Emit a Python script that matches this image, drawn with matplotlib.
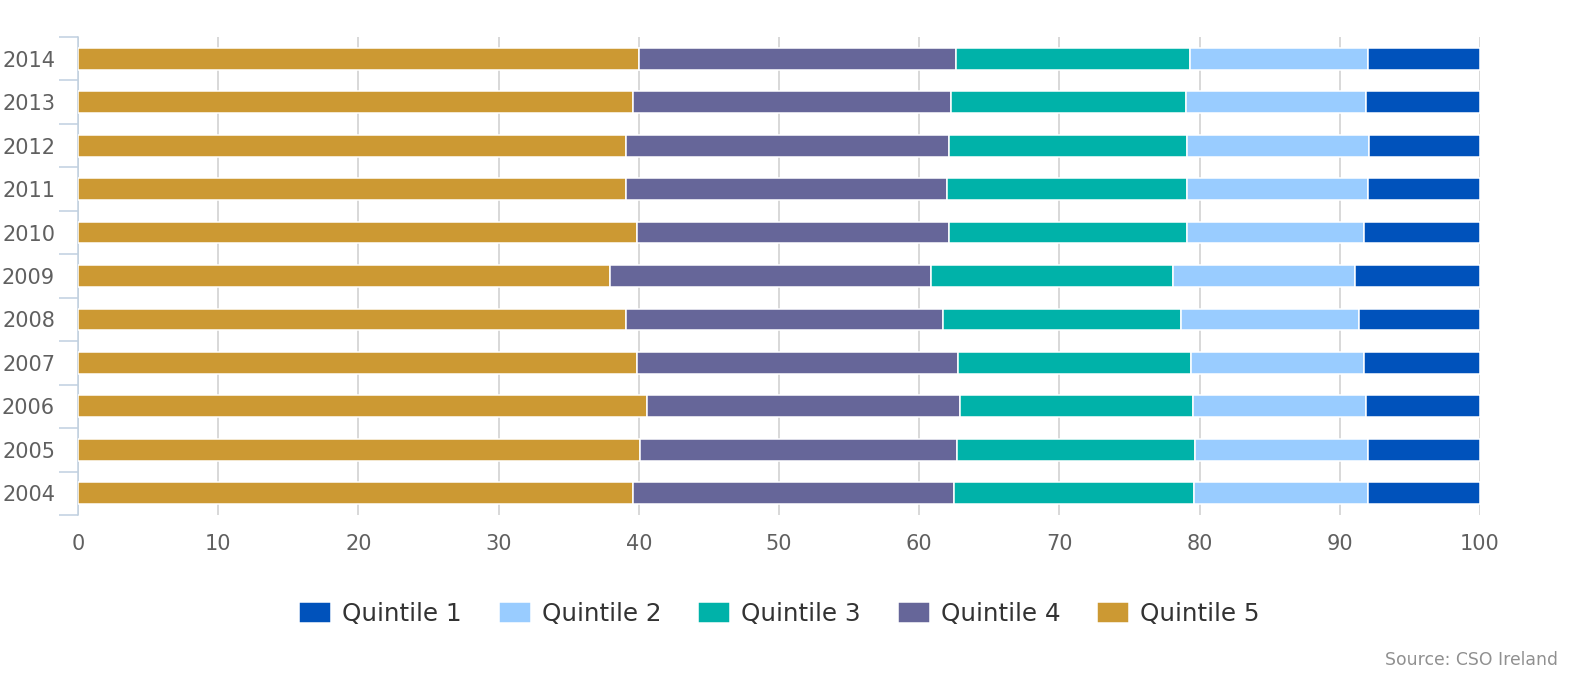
import matplotlib
matplotlib.use("Agg")
import matplotlib.pyplot as plt
import numpy as np

years = ["2004", "2005", "2006", "2007", "2008", "2009", "2010", "2011", "2012", "2013", "2014"]

# share of income by quintile (stacked to 100%)
q5 = [39.6, 40.1, 40.6, 39.9, 39.1, 38.0, 39.9, 39.1, 39.1, 39.6, 40.0]
q4 = [22.9, 22.6, 22.3, 22.9, 22.6, 22.9, 22.3, 22.9, 23.0, 22.7, 22.6]
q3 = [17.1, 17.0, 16.6, 16.7, 17.0, 17.3, 17.0, 17.1, 17.0, 16.7, 16.7]
q2 = [12.4, 12.3, 12.4, 12.3, 12.7, 13.0, 12.6, 12.9, 13.0, 12.9, 12.7]
q1 = [8.0, 8.0, 8.1, 8.3, 8.6, 8.9, 8.3, 8.0, 7.9, 8.1, 8.0]

series = [("Quintile 5", q5, "#CC9933"),
          ("Quintile 4", q4, "#666699"),
          ("Quintile 3", q3, "#00B2A9"),
          ("Quintile 2", q2, "#99CCFF"),
          ("Quintile 1", q1, "#0052BB")]

total = np.array(q5) + np.array(q4) + np.array(q3) + np.array(q2) + np.array(q1)

fig = plt.figure(figsize=(15.79, 6.76), dpi=100)
ax = fig.add_axes([78 / 1579, 1 - 515 / 676, (1480 - 78) / 1579, (515 - 37) / 676])

y = np.arange(len(years))
left = np.zeros(len(years))
bars = {}
for name, vals, col in series:
    pct = np.array(vals) / total * 100
    bars[name] = ax.barh(y, pct, left=left, height=0.5, color=col,
                         edgecolor="white", linewidth=1.1, zorder=3, label=name)
    left = left + pct

ax.set_xlim(0, 100)
ax.set_ylim(-0.5, len(years) - 0.5)
ax.set_xticks(range(0, 101, 10))
ax.grid(axis="x", color="#D8D8D8", linewidth=1.4, zorder=0)
ax.set_axisbelow(True)

ax.set_yticks(y)
ax.set_yticklabels(years)
ax.set_yticks(np.arange(-0.5, len(years)), minor=True)
ax.tick_params(axis="y", which="major", length=0, pad=16.5, labelsize=15, labelcolor="#606060")
ax.tick_params(axis="y", which="minor", length=13.7, width=1.1, color="#C0D0E0")
ax.tick_params(axis="x", length=0, pad=14, labelsize=15, labelcolor="#606060")

for s in ["top", "right", "bottom"]:
    ax.spines[s].set_visible(False)
ax.spines["left"].set_color("#C0D0E0")
ax.spines["left"].set_linewidth(1.1)

order = ["Quintile 1", "Quintile 2", "Quintile 3", "Quintile 4", "Quintile 5"]
handles = [bars[n] for n in order]
leg = fig.legend(handles, order, loc="center", bbox_to_anchor=(779.5 / 1579, 1 - 613.7 / 676),
                 ncol=5, frameon=False, fontsize=17.7,
                 handlelength=1.30, handleheight=0.976, handletextpad=0.45,
                 columnspacing=1.5, borderpad=0)
for t in leg.get_texts():
    t.set_color("#333333")

fig.text(1558 / 1579, 1 - 660 / 676, "Source: CSO Ireland", ha="right", va="center",
         fontsize=12.4, color="#909090")

fig.savefig("out.png", dpi=100, facecolor="white")
